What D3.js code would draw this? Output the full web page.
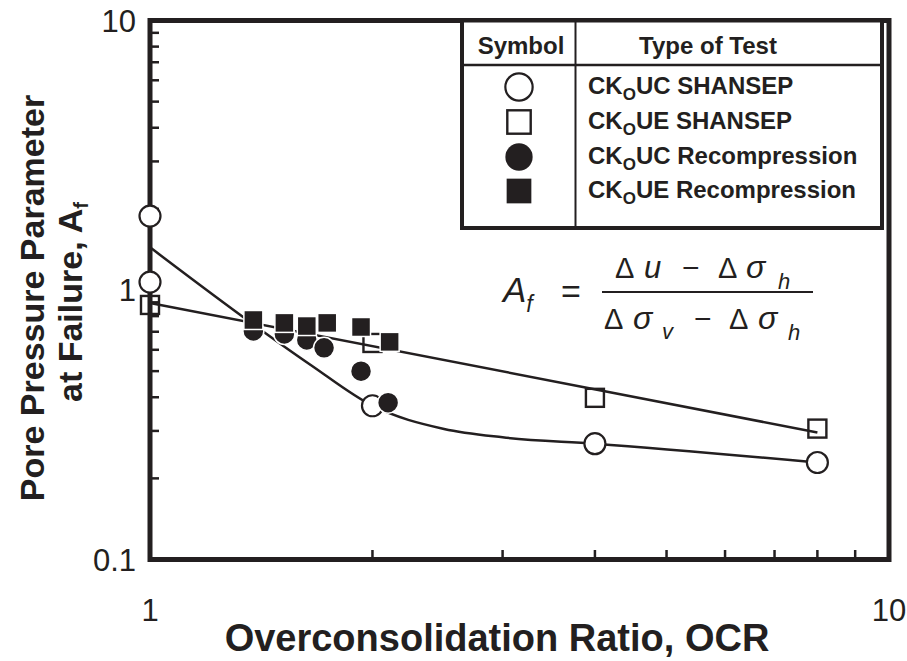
<!DOCTYPE html>
<html>
<head>
<meta charset="utf-8">
<script src="https://cdn.jsdelivr.net/npm/d3@7"></script>
<style>
  body { margin: 0; background: #fff; }
  text { font-family: "Liberation Sans", Arial, Helvetica, sans-serif; fill: #231f20; }
</style>
</head>
<body>
<script>
var width = 907;
var height = 661;
var ink = "#231f20";

// CKoUC SHANSEP (open circles)
var ocrUcShansep = [1, 1, 2, 4, 8];
var afUcShansep = [1.88, 1.07, 0.372, 0.269, 0.229];
// CKoUE SHANSEP (open squares)
var ocrUeShansep = [1, 2, 4, 8];
var afUeShansep = [0.88, 0.636, 0.398, 0.306];
// CKoUC Recompression (filled circles)
var ocrUcRecomp = [1.38, 1.52, 1.63, 1.72, 1.93, 2.10];
var afUcRecomp = [0.705, 0.687, 0.653, 0.61, 0.50, 0.382];
// CKoUE Recompression (filled squares)
var ocrUeRecomp = [1.38, 1.52, 1.63, 1.737, 1.93, 2.11];
var afUeRecomp = [0.774, 0.755, 0.735, 0.755, 0.729, 0.642];

// fitted trend lines
var ocrFitUc = [1, 1.38, 1.65, 2, 2.5, 3, 4, 8];
var afFitUc = [1.44, 0.745, 0.527, 0.372, 0.305, 0.284, 0.269, 0.229];
var ocrFitUe = [1, 8];
var afFitUe = [0.895, 0.296];

var xTicks = [1, 10];
var yTicks = [0.1, 1, 10];
var legendNames = ["UC SHANSEP", "UE SHANSEP", "UC Recompression", "UE Recompression"];
var legendKinds = ["openCircle", "openSquare", "fillCircle", "fillSquare"];

var x = d3.scaleLog().domain([1, 10]).range([150, 889]);
var y = d3.scaleLog().domain([0.1, 10]).range([559.5, 20.5]);

var svg = d3.select("body").append("svg")
    .attr("width", width)
    .attr("height", height);

function zip(a, b) { return a.map(function(d, i) { return [d, b[i]]; }); }

// minor ticks, inward
var minorX = [2, 3, 4, 5, 6, 7, 8, 9];
var minorY = [0.2, 0.3, 0.4, 0.5, 0.6, 0.7, 0.8, 0.9, 2, 3, 4, 5, 6, 7, 8, 9];
svg.append("g").selectAll("line").data(minorX).enter().append("line")
    .attr("x1", function(d) { return x(d); }).attr("x2", function(d) { return x(d); })
    .attr("y1", 559.5).attr("y2", 550)
    .attr("stroke", ink).attr("stroke-width", 2.5);
svg.append("g").selectAll("line").data(minorY).enter().append("line")
    .attr("x1", 150).attr("x2", 159)
    .attr("y1", function(d) { return y(d); }).attr("y2", function(d) { return y(d); })
    .attr("stroke", ink).attr("stroke-width", 2.5);

// frame
svg.append("rect")
    .attr("x", 150).attr("y", 20.5)
    .attr("width", 739).attr("height", 539)
    .attr("fill", "none").attr("stroke", ink).attr("stroke-width", 5);

// tick labels
svg.append("g").selectAll("text").data(yTicks).enter().append("text")
    .attr("x", 136).attr("y", function(d) { return y(d) + 11; })
    .attr("text-anchor", "end").style("font-size", "31px")
    .text(function(d) { return d; });
svg.append("g").selectAll("text").data(xTicks).enter().append("text")
    .attr("x", function(d) { return x(d); }).attr("y", 621)
    .attr("text-anchor", "middle").style("font-size", "31px")
    .text(function(d) { return d; });

// axis titles
svg.append("text")
    .attr("x", 497).attr("y", 651)
    .attr("text-anchor", "middle")
    .style("font-size", "38px").style("font-weight", "bold")
    .text("Overconsolidation Ratio, OCR");
var yt = svg.append("g").attr("transform", "translate(44,298) rotate(-90)");
yt.append("text").attr("x", 0).attr("y", 0)
    .attr("text-anchor", "middle")
    .style("font-size", "34px").style("font-weight", "bold")
    .text("Pore Pressure Parameter");
var yt2 = yt.append("text").attr("x", -4).attr("y", 38)
    .attr("text-anchor", "middle")
    .style("font-size", "34px").style("font-weight", "bold");
yt2.append("tspan").text("at Failure, A");
yt2.append("tspan").attr("dy", 6).style("font-size", "20px").text("f");

// trend lines
var line = d3.line()
    .x(function(d) { return x(d[0]); })
    .y(function(d) { return y(d[1]); });
svg.append("path")
    .datum(zip(ocrFitUc, afFitUc))
    .attr("d", line.curve(d3.curveMonotoneX))
    .attr("fill", "none").attr("stroke", ink).attr("stroke-width", 2.5);
svg.append("path")
    .datum(zip(ocrFitUe, afFitUe))
    .attr("d", line.curve(d3.curveLinear))
    .attr("fill", "none").attr("stroke", ink).attr("stroke-width", 2.5);

// symbols
function drawSymbol(g, kind, cx, cy, big) {
  var s = big ? 1.3 : 1;
  if (kind == "openCircle") {
    g.append("circle").attr("cx", cx).attr("cy", cy).attr("r", 10.5 * s)
      .attr("fill", "#fff").attr("stroke", ink).attr("stroke-width", 2.2);
  } else if (kind == "openSquare") {
    var a = 18 * s;
    g.append("rect").attr("x", cx - a / 2).attr("y", cy - a / 2).attr("width", a).attr("height", a)
      .attr("fill", big ? "#fff" : "none").attr("stroke", ink).attr("stroke-width", 2.4);
  } else if (kind == "fillCircle") {
    g.append("circle").attr("cx", cx).attr("cy", cy).attr("r", 10.5 * s)
      .attr("fill", ink).attr("stroke", "#fff").attr("stroke-width", big ? 0 : 1.5);
  } else {
    var b = 19 * s;
    g.append("rect").attr("x", cx - b / 2).attr("y", cy - b / 2).attr("width", b).attr("height", b)
      .attr("fill", ink).attr("stroke", "#fff").attr("stroke-width", big ? 0 : 1.5);
  }
}

var marks = svg.append("g");
zip(ocrUeShansep, afUeShansep).forEach(function(d) { drawSymbol(marks, "openSquare", x(d[0]), y(d[1])); });
zip(ocrUcShansep, afUcShansep).forEach(function(d) { drawSymbol(marks, "openCircle", x(d[0]), y(d[1])); });
zip(ocrUcRecomp, afUcRecomp).forEach(function(d) { drawSymbol(marks, "fillCircle", x(d[0]), y(d[1])); });
zip(ocrUeRecomp, afUeRecomp).forEach(function(d) { drawSymbol(marks, "fillSquare", x(d[0]), y(d[1])); });

// legend table
var lg = svg.append("g");
lg.append("rect").attr("x", 462).attr("y", 20.5).attr("width", 420).attr("height", 207.5)
    .attr("fill", "#fff").attr("stroke", ink).attr("stroke-width", 4);
lg.append("line").attr("x1", 462).attr("x2", 882).attr("y1", 65).attr("y2", 65)
    .attr("stroke", ink).attr("stroke-width", 2.5);
lg.append("line").attr("x1", 575.5).attr("x2", 575.5).attr("y1", 20.5).attr("y2", 228)
    .attr("stroke", ink).attr("stroke-width", 2);
lg.append("text").attr("x", 521).attr("y", 54).attr("text-anchor", "middle")
    .style("font-size", "24px").style("font-weight", "bold").text("Symbol");
lg.append("text").attr("x", 708).attr("y", 54).attr("text-anchor", "middle")
    .style("font-size", "24px").style("font-weight", "bold").text("Type of Test");
var rowY = [87, 122, 157, 191];
legendNames.forEach(function(name, i) {
  drawSymbol(lg, legendKinds[i], 519, rowY[i], true);
  var t = lg.append("text").attr("x", 588).attr("y", rowY[i] + 7)
      .style("font-size", "24px").style("font-weight", "bold");
  t.append("tspan").text("CK");
  t.append("tspan").attr("dy", 6).style("font-size", "17px").text("O");
  t.append("tspan").attr("dy", -6).text(name);
});

// formula
var f = svg.append("g");
function glyph(txt, gx, gy, size, upright) {
  f.append("text").attr("x", gx).attr("y", gy)
    .style("font-size", size + "px")
    .style("font-style", upright ? "normal" : "italic")
    .text(txt);
}
var fa = f.append("text").attr("x", 503).attr("y", 302)
    .style("font-size", "35px").style("font-style", "italic");
fa.append("tspan").text("A");
fa.append("tspan").attr("dy", 10).style("font-size", "23px").text("f");
glyph("=", 561, 303, 34, true);
svg.append("line").attr("x1", 602).attr("x2", 813).attr("y1", 292).attr("y2", 292)
    .attr("stroke", ink).attr("stroke-width", 2);
// numerator
glyph("\u0394", 615, 278, 29, true);
glyph("u", 644, 278, 31, false);
glyph("\u2212", 682, 278, 30, true);
glyph("\u0394", 718, 278, 29, true);
glyph("\u03c3", 746, 278, 32, false);
glyph("h", 778, 289, 22, false);
// denominator
glyph("\u0394", 604, 329, 29, true);
glyph("\u03c3", 633, 329, 32, false);
glyph("v", 662, 339, 22, false);
glyph("\u2212", 694, 329, 30, true);
glyph("\u0394", 729, 329, 29, true);
glyph("\u03c3", 758, 329, 32, false);
glyph("h", 788, 340, 22, false);
</script>
</body>
</html>
